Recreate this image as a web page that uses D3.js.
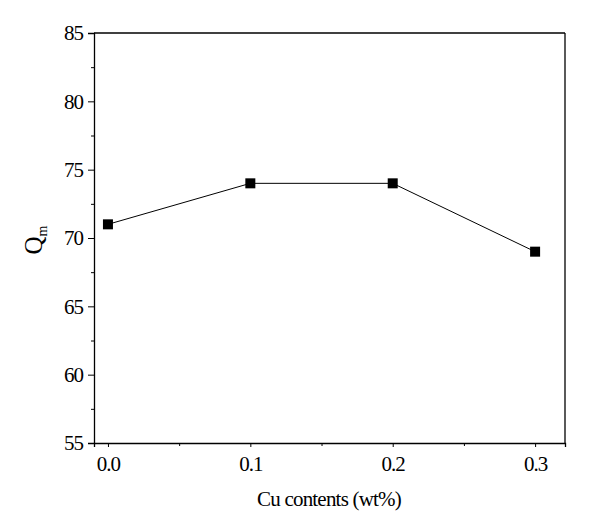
<!DOCTYPE html>
<html>
<head>
<meta charset="utf-8">
<script src="https://cdn.jsdelivr.net/npm/d3@7"></script>
<style>
  body { margin: 0; background: #fff; }
  text { font-family: "Liberation Serif", "Times New Roman", serif; fill: #000; }
</style>
</head>
<body>
<div id="chart"></div>
<script>
// data
var cuContents = [0.0, 0.1, 0.2, 0.3];
var qmValues = [71, 74, 74, 69];
var xTicks = [0.0, 0.1, 0.2, 0.3];
var yTicks = [55, 60, 65, 70, 75, 80, 85];
// minor ticks
var xMinor = [0.05, 0.15, 0.25];
var yMinor = [57.5, 62.5, 67.5, 72.5, 77.5, 82.5];

var svgWidth = 605;
var svgHeight = 523;
var margin = { top: 33, bottom: 80, right: 40, left: 94 };
var chartWidth = svgWidth - margin.left - margin.right;
var chartHeight = svgHeight - margin.top - margin.bottom;

var svg = d3.select("#chart")
    .append("svg")
    .attr("width", svgWidth)
    .attr("height", svgHeight);

var chartGroup = svg.append("g")
    .attr("transform", `translate(${margin.left}, ${margin.top})`);

var xScale = d3.scaleLinear()
    .domain([-0.0098, 0.321])
    .range([0, chartWidth]);
var yScale = d3.scaleLinear()
    .domain([55, 85])
    .range([chartHeight, 0]);

// x axis
var bottomAxis = d3.axisBottom(xScale)
    .tickValues(xTicks)
    .tickSize(4)
    .tickPadding(9)
    .tickFormat(d3.format(".1f"));
chartGroup.append("g")
    .attr("transform", `translate(0, ${chartHeight})`)
    .call(bottomAxis);
chartGroup.append("g")
    .attr("transform", `translate(0, ${chartHeight})`)
    .call(d3.axisBottom(xScale).tickValues(xMinor).tickSize(3).tickFormat(""))
    .select(".domain").remove();

// y axis
var leftAxis = d3.axisLeft(yScale)
    .tickValues(yTicks)
    .tickSize(6)
    .tickPadding(5);
chartGroup.append("g")
    .call(leftAxis);
chartGroup.append("g")
    .call(d3.axisLeft(yScale).tickValues(yMinor).tickSize(3).tickFormat(""))
    .select(".domain").remove();

chartGroup.selectAll(".tick text")
    .style("font-size", "21px")
    .style("letter-spacing", "-1px")
    .style("font-family", "'Liberation Serif', serif");
chartGroup.selectAll(".tick line").attr("stroke-width", 1);
chartGroup.selectAll(".domain").attr("stroke-width", 1.3);

// frame top and right
chartGroup.append("line")
    .attr("x1", 0).attr("x2", chartWidth)
    .attr("y1", 0).attr("y2", 0)
    .attr("stroke", "#000").attr("stroke-width", 1.3);
chartGroup.append("line")
    .attr("x1", chartWidth).attr("x2", chartWidth)
    .attr("y1", 0).attr("y2", chartHeight)
    .attr("stroke", "#000").attr("stroke-width", 1.3);

var points = cuContents.map((c, i) => ({ x: c, y: qmValues[i] }));

// line
var line = d3.line()
    .x(d => xScale(d.x))
    .y(d => yScale(d.y));
chartGroup.append("path")
    .datum(points)
    .attr("d", line)
    .attr("fill", "none")
    .attr("stroke", "#000")
    .attr("stroke-width", 1);

// square markers
chartGroup.selectAll("rect.pt")
    .data(points)
    .enter()
    .append("rect")
    .attr("class", "pt")
    .attr("x", d => xScale(d.x) - 5)
    .attr("y", d => yScale(d.y) - 5)
    .attr("width", 10)
    .attr("height", 10)
    .attr("fill", "#000");

// axis labels
svg.append("text")
    .attr("x", 329)
    .attr("y", 506)
    .attr("text-anchor", "middle")
    .style("font-size", "21px")
    .style("letter-spacing", "-0.8px")
    .text("Cu contents (wt%)");

var yLabel = svg.append("text")
    .attr("transform", `translate(42, ${margin.top + chartHeight / 2 + 2}) rotate(-90)`)
    .attr("text-anchor", "middle")
    .style("font-size", "25px");
yLabel.append("tspan").text("Q");
yLabel.append("tspan")
    .attr("dy", 5)
    .style("font-size", "14px")
    .text("m");
</script>
</body>
</html>
